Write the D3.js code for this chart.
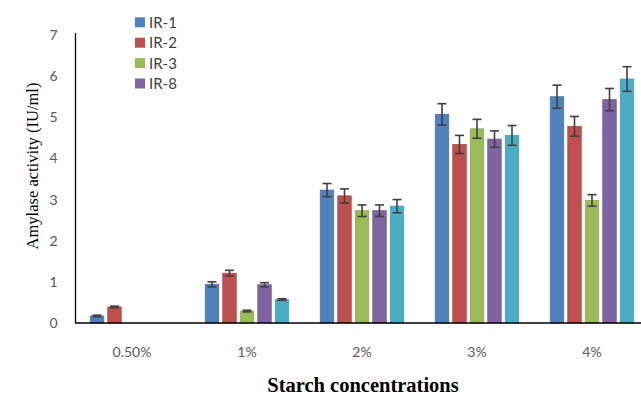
<!DOCTYPE html>
<html>
<head>
<meta charset="utf-8">
<script src="https://cdn.jsdelivr.net/npm/d3@7"></script>
<style>
  html, body { margin: 0; padding: 0; background: #fff; }
  svg { display: block; }
</style>
</head>
<body>
<svg id="chart" width="641" height="399"></svg>
<script>
// ---- data ----
const categories = ["0.50%", "1%", "2%", "3%", "4%"];
const seriesNames = ["IR-1", "IR-2", "IR-3", "IR-8", "S5"];
const legendLabels = ["IR-1", "IR-2", "IR-3", "IR-8"];
const ir1 = [0.17, 0.94, 3.23, 5.07, 5.50];
const ir2 = [0.39, 1.21, 3.09, 4.34, 4.78];
const ir3 = [0, 0.29, 2.73, 4.72, 2.98];
const ir8 = [0, 0.93, 2.73, 4.47, 5.43];
const s5 = [0, 0.57, 2.84, 4.56, 5.93];
const ir1Err = [0.02, 0.06, 0.16, 0.26, 0.28];
const ir2Err = [0.02, 0.07, 0.17, 0.22, 0.24];
const ir3Err = [0, 0.02, 0.14, 0.23, 0.14];
const ir8Err = [0, 0.05, 0.14, 0.20, 0.27];
const s5Err = [0, 0.02, 0.16, 0.24, 0.30];
const yTicks = [0, 1, 2, 3, 4, 5, 6, 7];
const colors = ["#4F81BD", "#C0504D", "#9BBB59", "#8064A2", "#4BACC6"];

const values = [ir1, ir2, ir3, ir8, s5];
const errors = [ir1Err, ir2Err, ir3Err, ir8Err, s5Err];

// ---- layout ----
const svg = d3.select("#chart");
const x = d3.scaleBand().domain(categories).range([74.5, 649.5]).padding(0);
const xs = d3.scaleBand().domain(seriesNames).range([0, x.bandwidth()])
  .paddingInner(0.23).paddingOuter(0.9);
const y = d3.scaleLinear().domain([0, 7]).range([323, 35]);
const color = d3.scaleOrdinal().domain(seriesNames).range(colors);

const rows = [];
categories.forEach((c, i) => {
  seriesNames.forEach((s, j) => {
    rows.push({ cat: c, ser: s, v: values[j][i], e: errors[j][i] });
  });
});
const shown = rows.filter(d => d.v > 0);

// bars
svg.append("g").selectAll("rect").data(shown).join("rect")
  .attr("x", d => x(d.cat) + xs(d.ser))
  .attr("y", d => y(d.v))
  .attr("width", xs.bandwidth())
  .attr("height", d => y(0) - y(d.v))
  .attr("fill", d => color(d.ser))
  .attr("stroke", d => d3.color(color(d.ser)).darker(0.25))
  .attr("stroke-width", 0.8);

// error bars
const eg = svg.append("g").attr("stroke", "#404040").attr("stroke-width", 1.6);
shown.forEach(d => {
  const cx = x(d.cat) + xs(d.ser) + xs.bandwidth() / 2;
  const y1 = y(d.v + d.e), y2 = y(d.v - d.e);
  eg.append("line").attr("x1", cx).attr("x2", cx).attr("y1", y1).attr("y2", y2);
  eg.append("line").attr("x1", cx - 4.5).attr("x2", cx + 4.5).attr("y1", y1).attr("y2", y1);
  eg.append("line").attr("x1", cx - 4.5).attr("x2", cx + 4.5).attr("y1", y2).attr("y2", y2);
});

// y axis
const yAxis = d3.axisLeft(y).tickValues(yTicks).tickSize(0).tickPadding(18)
  .tickFormat(d3.format("d"));
const yg = svg.append("g").attr("transform", "translate(75.5,0)").call(yAxis);
yg.select(".domain").attr("d", `M0,${y(7) - 2}V${y(0)}`).attr("stroke", "#000").attr("stroke-width", 1.3);
yg.selectAll("text").attr("font-family", "Lato, 'Open Sans', sans-serif")
  .attr("font-size", 14).attr("fill", "#595959");

// x axis
const xAxis = d3.axisBottom(x).tickSize(0).tickPadding(24);
const xg = svg.append("g").attr("transform", `translate(0,${y(0)})`).call(xAxis);
xg.select(".domain").attr("d", "M75,0H641").attr("stroke", "#000").attr("stroke-width", 1.6);
xg.selectAll("text").attr("font-family", "Lato, 'Open Sans', sans-serif")
  .attr("font-size", 14).attr("fill", "#595959");

// axis titles
svg.append("text")
  .attr("transform", "translate(38,166) rotate(-90)")
  .attr("text-anchor", "middle")
  .attr("font-family", "'Liberation Serif', 'DejaVu Serif', serif")
  .attr("font-size", 16.5).attr("fill", "#000")
  .text("Amylase activity (IU/ml)");

svg.append("text")
  .attr("x", 363).attr("y", 392)
  .attr("text-anchor", "middle")
  .attr("font-family", "'Liberation Serif', 'DejaVu Serif', serif")
  .attr("font-weight", "bold")
  .attr("font-size", 20.5).attr("fill", "#000")
  .text("Starch concentrations");

// legend
const lg = svg.append("g").selectAll("g").data(legendLabels).join("g")
  .attr("transform", (d, i) => `translate(135,${22.3 + i * 20.4})`);
lg.append("rect").attr("x", 0).attr("y", -5).attr("width", 10).attr("height", 10)
  .attr("fill", d => color(d));
lg.append("text").attr("x", 14).attr("y", 5.5)
  .attr("font-family", "Lato, 'Open Sans', sans-serif")
  .attr("font-size", 15).attr("fill", "#404040")
  .text(d => d);
</script>
</body>
</html>
